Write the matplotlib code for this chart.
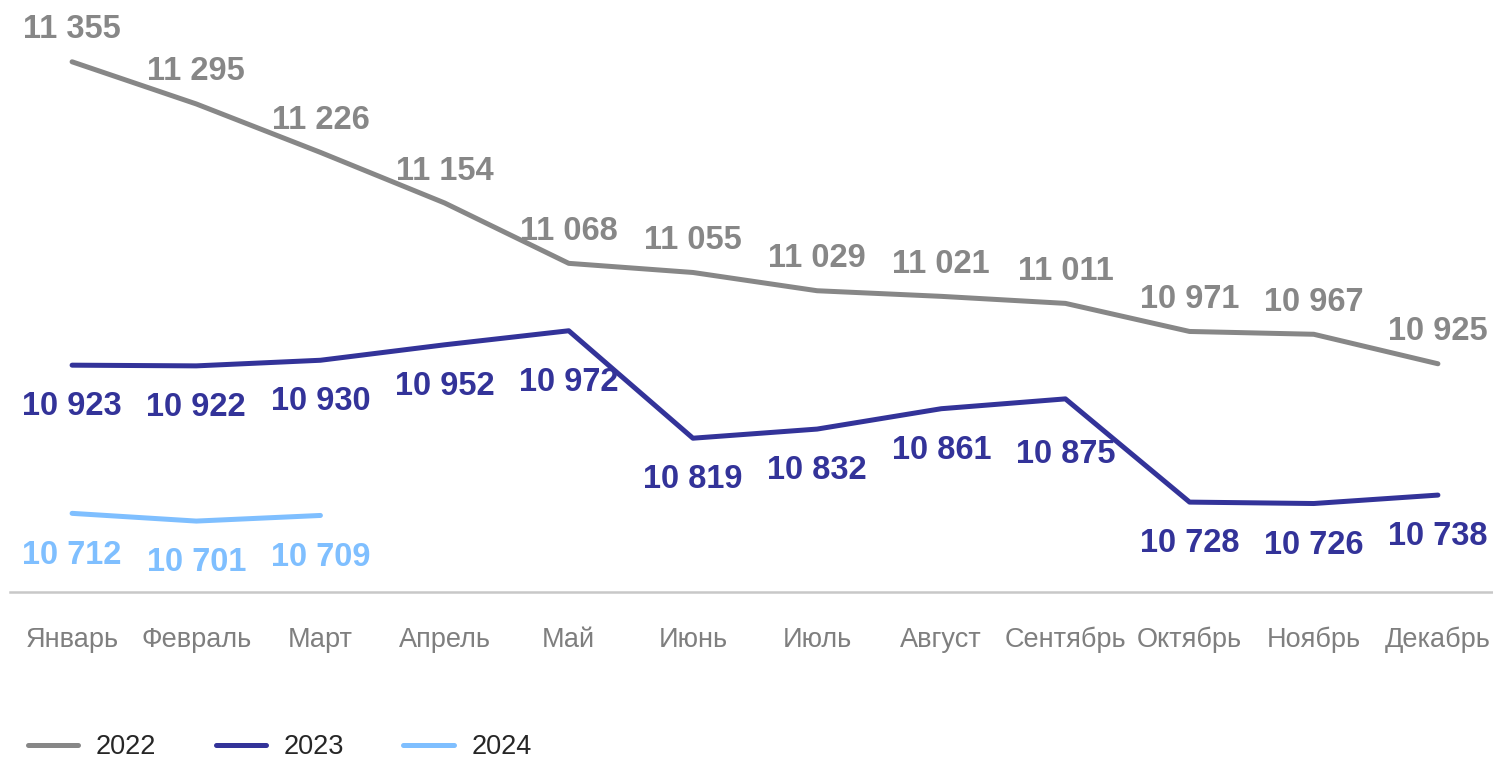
import matplotlib.pyplot as plt
import numpy as np

plt.rcParams['font.family'] = ['Liberation Sans', 'DejaVu Sans']

months = ['Январь', 'Февраль', 'Март', 'Апрель', 'Май', 'Июнь', 'Июль',
          'Август', 'Сентябрь', 'Октябрь', 'Ноябрь', 'Декабрь']
v2022 = [11355, 11295, 11226, 11154, 11068, 11055, 11029, 11021, 11011, 10971, 10967, 10925]
v2023 = [10923, 10922, 10930, 10952, 10972, 10819, 10832, 10861, 10875, 10728, 10726, 10738]
v2024 = [10712, 10701, 10709]

c22 = '#878787'
c23 = '#333399'
c24 = '#7fbfff'

# label offsets (points) for 2023 - peaks pushed a bit lower
off23 = [-30, -30, -30, -30, -37, -30, -30, -30, -40, -30, -30, -30]

def fmt(v):
    return '{:,}'.format(v).replace(',', ' ')

fig = plt.figure(figsize=(14.93, 7.59), dpi=100)
ax = fig.add_axes([10 / 1493, 1 - 592 / 759, 1490 / 1493, 592 / 759])

x = np.arange(len(months))
ax.plot(x, v2022, color=c22, lw=3.6, solid_capstyle='round', label='2022')
ax.plot(x, v2023, color=c23, lw=3.6, solid_capstyle='round', label='2023')
ax.plot(x[:len(v2024)], v2024, color=c24, lw=3.6, solid_capstyle='round', label='2024')

for i, v in enumerate(v2022):
    ax.annotate(fmt(v), (i, v), xytext=(0, 23), textcoords='offset points',
                ha='center', va='center', fontsize=23.5, fontweight='bold', color=c22)
for i, v in enumerate(v2023):
    ax.annotate(fmt(v), (i, v), xytext=(0, off23[i]), textcoords='offset points',
                ha='center', va='center', fontsize=23.5, fontweight='bold', color=c23)
for i, v in enumerate(v2024):
    ax.annotate(fmt(v), (i, v), xytext=(0, -30), textcoords='offset points',
                ha='center', va='center', fontsize=23.5, fontweight='bold', color=c24)

ax.set_xlim(-0.5, 11.5)
ax.set_ylim(10600, 11443)
ax.set_xticks(x)
ax.set_xticklabels(months, fontsize=19.5, color='#7f7f7f')
ax.tick_params(axis='x', length=0, pad=25)
ax.set_yticks([])
for s in ['top', 'right', 'left']:
    ax.spines[s].set_visible(False)
ax.spines['bottom'].set_color('#c8c8c8')
ax.spines['bottom'].set_linewidth(1.8)
ax.patch.set_visible(False)

leg = fig.legend(loc='center left', bbox_to_anchor=(28 / 1493, 1 - 747 / 759), ncol=3,
                 frameon=False, fontsize=19.5, handlelength=1.85, handletextpad=0.65,
                 columnspacing=2.2, borderaxespad=0, borderpad=0)
for t in leg.get_texts():
    t.set_color('#262626')

fig.savefig('out.png', dpi=100)
